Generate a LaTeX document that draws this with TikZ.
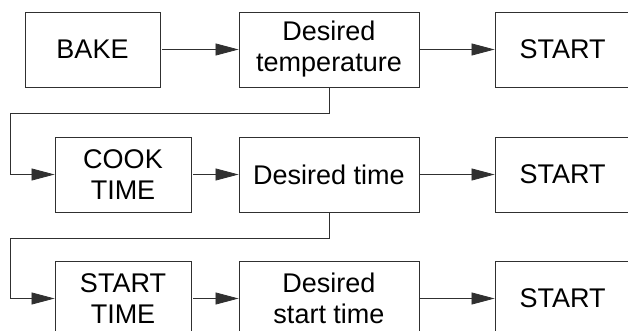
\documentclass[tikz,border=0pt]{standalone}
\usepackage{fontspec}
\setmainfont{Liberation Sans}
\usetikzlibrary{arrows.meta,positioning}
\definecolor{OvenLine}{HTML}{303030}

\begin{document}
\begin{tikzpicture}[x=1pt,y=-1pt,
  box/.style={draw=OvenLine,line width=0.9pt,minimum height=75pt,inner sep=0pt,
    align=center,font=\fontsize{27}{31}\selectfont},
  flow/.style={draw=OvenLine,line width=0.8pt,-{Triangle[length=23pt,width=12pt]}}]
\useasboundingbox (0,0) rectangle (628,331);
\clip (0,0) rectangle (628,331);
\def\rowa{49.5}
\def\rowb{174.5}
\def\rowc{298.5}
% first row
\node[box,minimum width=135pt] (bake) at (92.5,\rowa) {BAKE};
\node[box,minimum width=180pt] (temp) at (329,\rowa) {Desired\\temperature};
\node[box,minimum width=135pt] (starta) at (562.5,\rowa) {START};
% second row
\node[box,minimum width=136pt] (cook) at (123,\rowb) {COOK\\TIME};
\node[box,minimum width=180pt] (time) at (329,\rowb) {Desired time};
\node[box,minimum width=135pt] (startb) at (562.5,\rowb) {START};
% third row
\node[box,minimum width=136pt] (stime) at (123,\rowc) {START\\TIME};
\node[box,minimum width=180pt] (sdes) at (329,\rowc) {Desired\\start time};
\node[box,minimum width=135pt] (startc) at (562.5,\rowc) {START};
% arrows
\draw[flow] ([xshift=2pt]bake.east) -- (temp.west);
\draw[flow] (temp.east) -- (starta.west);
\draw[flow] ([xshift=2pt]cook.east) -- (time.west);
\draw[flow] (time.east) -- (startb.west);
\draw[flow] ([xshift=2pt]stime.east) -- (sdes.west);
\draw[flow] (sdes.east) -- (startc.west);
% return lines
\coordinate (turna) at (10,113);
\coordinate (turnb) at (10,238);
\draw[flow] (temp.south) |- (turna) |- (cook.west);
\draw[flow] (time.south) |- (turnb) |- (stime.west);
\end{tikzpicture}
\end{document}
